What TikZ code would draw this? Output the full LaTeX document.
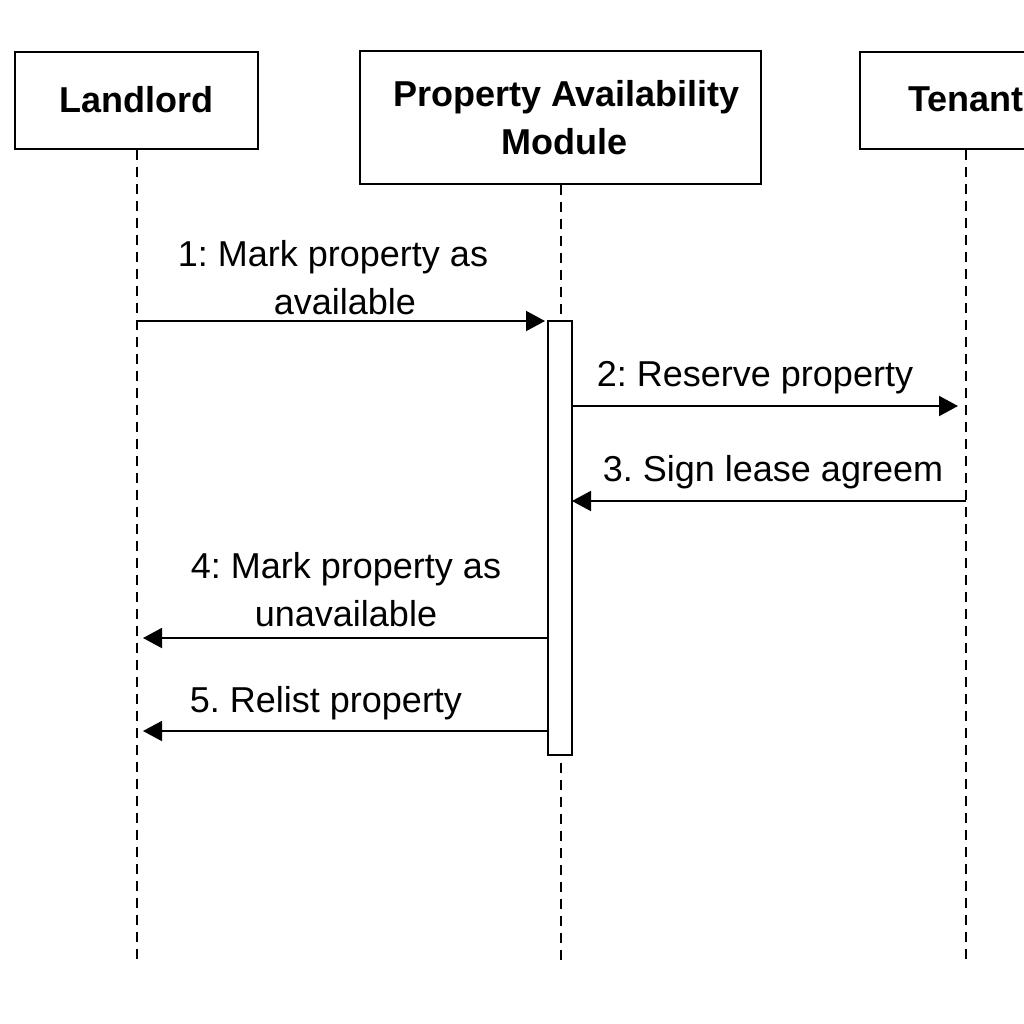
\documentclass[tikz,border=0pt]{standalone}
\usepackage{fontspec}
\setmainfont{Liberation Sans}
\usetikzlibrary{arrows.meta}
\frenchspacing
\begin{document}
\begin{tikzpicture}[x=0.5pt,y=-0.5pt,
  actor/.style={draw,line width=1pt,inner sep=0pt,font=\fontsize{18}{24}\selectfont\bfseries,align=center},
  life/.style={line width=0.9pt,dash pattern=on 5pt off 3.5pt},
  msg/.style={line width=1pt,-{Triangle[length=9.5pt,width=10pt]}},
  lbl/.style={font=\fontsize{18}{24}\selectfont,align=center,inner sep=0pt}]
\useasboundingbox (0,0) rectangle (1024,1024);
\begin{scope}
\clip (0,0) rectangle (1024,1024);
\node[actor,minimum width=121.5pt,minimum height=48.5pt] (L) at (136.5,100.5) {\raisebox{1.5pt}{Landlord}};
\node[actor,minimum width=200.5pt,minimum height=66.5pt] (P) at (560.5,117.5) {\hspace*{6pt}Property Availability\\\hspace*{4pt}Module};
\node[actor,minimum width=106pt,minimum height=48.5pt,text width=106pt] (T) at (966,100.5) {\raisebox{1.5pt}{Tenant}};
\end{scope}
\coordinate (Lb) at (137,960);
\coordinate (Pb) at (561,960);
\coordinate (Tb) at (966,960);
\draw[life] (L.south -| Lb) -- (Lb);
\draw[life] (P.south -| Pb) -- (Pb);
\draw[life] (T.south -| Tb) -- (Tb);
\node[draw,fill=white,line width=1pt,minimum width=12pt,minimum height=217pt,inner sep=0pt] (A) at (560,538) {};
% messages
\coordinate (m1s) at (137,321);
\coordinate (m1e) at (545,321);
\draw[msg] (m1s) -- (m1e);
\node[lbl] (t1) at (333,278) {1: Mark property as\\\hspace*{12pt}available};
\coordinate (m2s) at (572,406);
\coordinate (m2e) at (958,406);
\draw[msg] (m2s) -- (m2e);
\node[lbl] (t2) at (755,378) {2: Reserve property};
\coordinate (m3s) at (966,501);
\coordinate (m3e) at (572,501);
\draw[msg] (m3s) -- (m3e);
\node[lbl] (t3) at (773,472) {3. Sign lease agreem};
\coordinate (m4s) at (548,638);
\coordinate (m4e) at (143,638);
\draw[msg] (m4s) -- (m4e);
\node[lbl] (t4) at (346,590) {4: Mark property as\\unavailable};
\coordinate (m5s) at (548,731);
\coordinate (m5e) at (143,731);
\draw[msg] (m5s) -- (m5e);
\node[lbl] (t5) at (326,703) {5. Relist property};
\end{tikzpicture}
\end{document}
